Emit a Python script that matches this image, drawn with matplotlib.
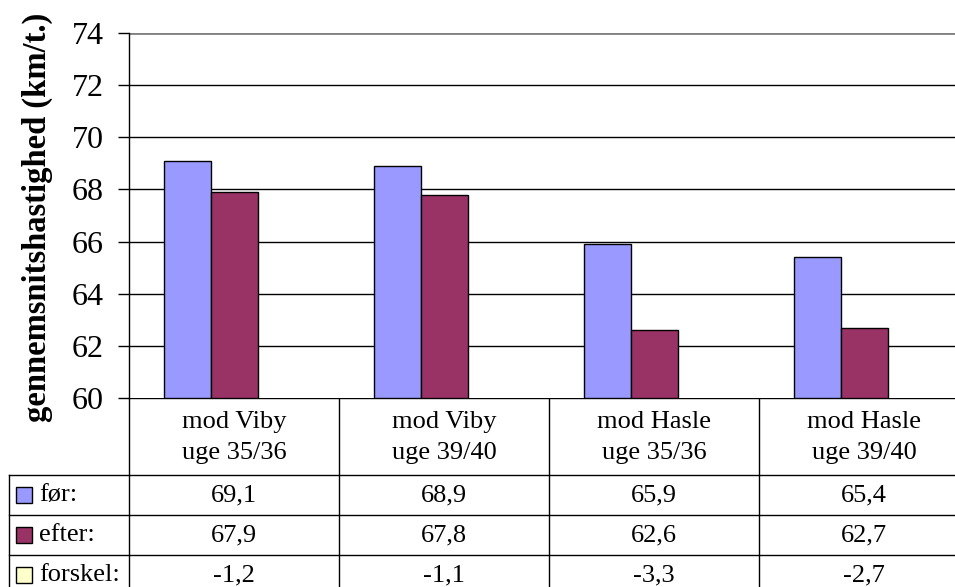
import matplotlib
matplotlib.use('Agg')
import numpy as np
import matplotlib.pyplot as plt

# data
categories = ['mod Viby\nuge 35/36', 'mod Viby\nuge 39/40',
              'mod Hasle\nuge 35/36', 'mod Hasle\nuge 39/40']
foer = [69.1, 68.9, 65.9, 65.4]
efter = [67.9, 67.8, 62.6, 62.7]
forskel = [-1.2, -1.1, -3.3, -2.7]
row_names = ['før:', 'efter:', 'forskel:']
row_colors = ['#9999FF', '#993366', '#FFFFCC']
yticks = [60, 62, 64, 66, 68, 70, 72, 74]

plt.rcParams['font.family'] = ['Liberation Serif', 'DejaVu Serif']

W, H = 955, 587
fig = plt.figure(figsize=(W/100, H/100), dpi=100)

# layout in pixels
plot_l, plot_t, plot_b = 129, 33, 398
col_w = 210
n = len(categories)
plot_r = plot_l + n*col_w

ax = fig.add_axes([plot_l/W, 1-plot_b/H, (plot_r-plot_l)/W, (plot_b-plot_t)/H])
ax.set_xlim(0, n)
ax.set_ylim(60, 74)

x = np.arange(n)
off = 82/col_w
bw = 47/col_w
ax.bar(x+off-bw/2, np.array(foer)-60, bw, bottom=60, color=row_colors[0],
       edgecolor='black', linewidth=1, zorder=3)
ax.bar(x+off+bw/2, np.array(efter)-60, bw, bottom=60, color=row_colors[1],
       edgecolor='black', linewidth=1, zorder=3)

ax.set_yticks(yticks)
ax.set_yticklabels([str(t) for t in yticks], fontsize=23)
ax.tick_params(axis='y', direction='out', length=8, width=1, pad=10)
ax.set_xticks([])
for t in yticks[1:-1]:
    ax.axhline(t, color='black', lw=1, zorder=1)
ax.axhline(74, color='#808080', lw=2, zorder=1)
for s in ['top', 'right', 'bottom']:
    ax.spines[s].set_visible(False)
ax.spines['left'].set_linewidth(1)

fig.text(37/W, 1-217/H, 'gennemsnitshastighed (km/t.)', rotation=90,
         ha='center', va='center', fontsize=23.5, fontweight='bold')

# data table below the plot, in pixel coords
tb = fig.add_axes([0, 0, 1, 1], zorder=-1)
tb.set_xlim(0, W)
tb.set_ylim(H, 0)
tb.axis('off')

hdr_b = 475
row_h = 40
tab_l = 9
lk = dict(color='black', lw=1)
tb.plot([plot_l, plot_r], [plot_b, plot_b], **lk)
for r in range(len(row_names)+1):
    yy = hdr_b + r*row_h
    tb.plot([tab_l, plot_r], [yy, yy], **lk)
tb.plot([tab_l, tab_l], [hdr_b, H+20], **lk)
for c in range(n+1):
    xx = plot_l + c*col_w
    tb.plot([xx, xx], [plot_b, H+20], **lk)

for c, cat in enumerate(categories):
    cx = plot_l + c*col_w + col_w/2
    top, bot = cat.split('\n')
    tb.text(cx, 422, top, ha='center', va='center', fontsize=19)
    tb.text(cx, 453, bot, ha='center', va='center', fontsize=19)

rows = [foer, efter, forskel]
for r, vals in enumerate(rows):
    cy = hdr_b + r*row_h + row_h/2
    tb.add_patch(plt.Rectangle((16, cy-8), 16, 16, facecolor=row_colors[r],
                               edgecolor='black', lw=1))
    tb.text(39, cy, row_names[r], ha='left', va='center', fontsize=19)
    for c, v in enumerate(vals):
        cx = plot_l + c*col_w + col_w/2
        tb.text(cx, cy, ('%.1f' % v).replace('.', ','), ha='center',
                va='center', fontsize=19)

fig.savefig('out.png', dpi=100)
